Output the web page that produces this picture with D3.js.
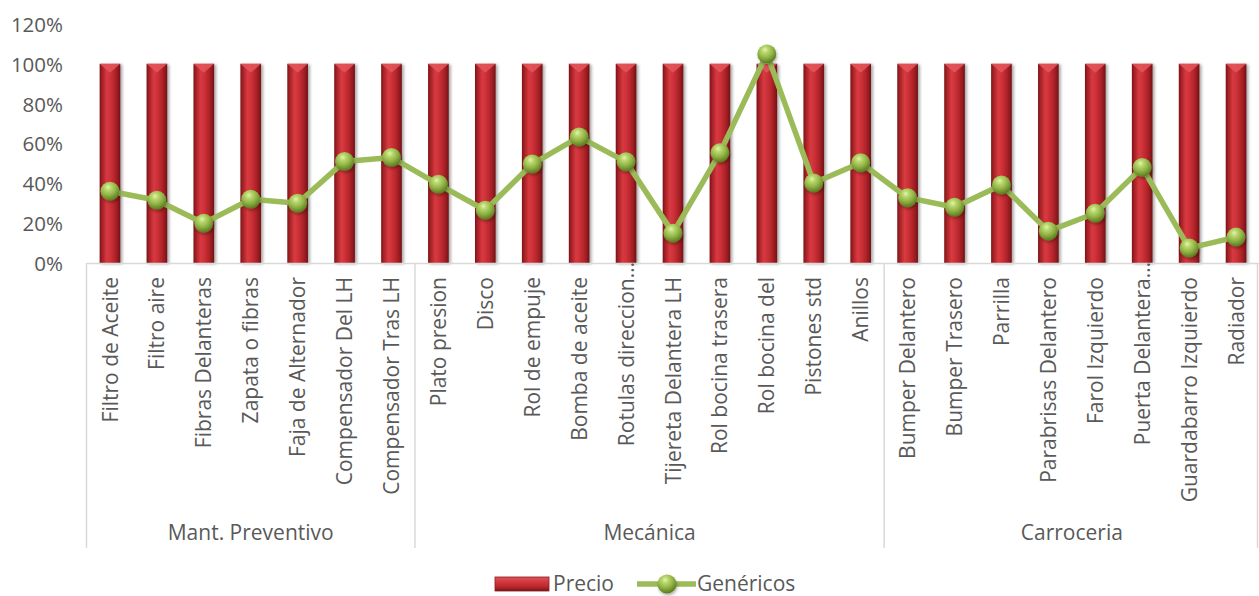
<!DOCTYPE html>
<html>
<head>
<meta charset="utf-8">
<script src="https://cdn.jsdelivr.net/npm/d3@7"></script>
<style>
  body { margin: 0; background: #fff; }
  svg text { font-family: 'Open Sans', sans-serif; fill: #595959; }
</style>
</head>
<body>
<svg id="chart" width="1259" height="596"></svg>
<script>
// Parts, grouped by service area
const categories = [
  "Filtro de Aceite", "Filtro aire", "Fibras Delanteras", "Zapata o fibras",
  "Faja de Alternador", "Compensador Del LH", "Compensador Tras LH",
  "Plato presion", "Disco", "Rol de empuje", "Bomba de aceite",
  "Rotulas direccion…", "Tijereta Delantera LH", "Rol bocina trasera",
  "Rol bocina del", "Pistones std", "Anillos",
  "Bumper Delantero", "Bumper Trasero", "Parrilla", "Parabrisas Delantero",
  "Farol Izquierdo", "Puerta Delantera…", "Guardabarro Izquierdo", "Radiador"
];
const groupNames = ["Mant. Preventivo", "Mecánica", "Carroceria"];
const groupSizes = [7, 10, 8];

// Series (share of the reference price)
const precio = [
  1, 1, 1, 1, 1, 1, 1,
  1, 1, 1, 1, 1, 1, 1, 1, 1, 1,
  1, 1, 1, 1, 1, 1, 1, 1
];
const genericos = [
  0.36, 0.315, 0.20, 0.32, 0.30, 0.51, 0.53,
  0.395, 0.265, 0.497, 0.633, 0.508, 0.15, 0.553, 1.05, 0.402, 0.503,
  0.328, 0.28, 0.392, 0.16, 0.25, 0.48, 0.075, 0.13
];
const yTicks = [0, 0.2, 0.4, 0.6, 0.8, 1.0, 1.2];
const seriesNames = ["Precio", "Genéricos"];

const svg = d3.select("#chart");
const defs = svg.append("defs");

const plotLeft = 86.5, plotRight = 1259.5;
const x = d3.scaleBand().domain(categories).range([plotLeft, plotRight]).padding(0);
const y = d3.scaleLinear().domain([0, 1.2]).range([263, 24]);
const barW = x.bandwidth() * 0.44;
const cx = d => x(d) + x.bandwidth() / 2;

// Cylindrical red fill for the bars
const barGrad = defs.append("linearGradient").attr("id", "barGrad")
  .attr("x1", "0%").attr("x2", "100%").attr("y1", "0%").attr("y2", "0%");
[["0%", "#7a1417"], ["12%", "#a52126"], ["35%", "#d83a41"], ["50%", "#cf3239"],
 ["70%", "#b8272d"], ["88%", "#951b20"], ["100%", "#6e1114"]]
  .forEach(([o, c]) => barGrad.append("stop").attr("offset", o).attr("stop-color", c));

const legendGrad = defs.append("linearGradient").attr("id", "legendGrad")
  .attr("x1", "0%").attr("x2", "0%").attr("y1", "0%").attr("y2", "100%");
[["0%", "#e0545a"], ["30%", "#d63a41"], ["70%", "#b8272d"], ["100%", "#7a1417"]]
  .forEach(([o, c]) => legendGrad.append("stop").attr("offset", o).attr("stop-color", c));

// Glossy green sphere for the markers
const dotGrad = defs.append("radialGradient").attr("id", "dotGrad")
  .attr("cx", "42%").attr("cy", "32%").attr("r", "65%").attr("fx", "40%").attr("fy", "28%");
[["0%", "#e4f3b4"], ["25%", "#b9d86c"], ["60%", "#93b548"], ["100%", "#5e7f22"]]
  .forEach(([o, c]) => dotGrad.append("stop").attr("offset", o).attr("stop-color", c));

const shadow = defs.append("filter").attr("id", "shadow")
  .attr("x", "-50%").attr("y", "-10%").attr("width", "200%").attr("height", "120%");
shadow.append("feDropShadow").attr("dx", 2).attr("dy", 1).attr("stdDeviation", 1.6)
  .attr("flood-color", "#000").attr("flood-opacity", 0.35);

const dotShadow = defs.append("filter").attr("id", "dotShadow")
  .attr("x", "-60%").attr("y", "-60%").attr("width", "220%").attr("height", "220%");
dotShadow.append("feDropShadow").attr("dx", 1).attr("dy", 2).attr("stdDeviation", 1.5)
  .attr("flood-color", "#000").attr("flood-opacity", 0.3);

// Y axis labels
const yAxis = d3.axisLeft(y).tickValues(yTicks).tickFormat(d3.format(".0%")).tickSize(0).tickPadding(0);
const yG = svg.append("g").attr("transform", "translate(63,0)").call(yAxis);
yG.select(".domain").remove();
yG.selectAll("text").style("font-size", "20.5px").attr("dy", "0.36em").attr("fill", "#595959");

// Bars
const barG = svg.append("g");
const bars = barG.selectAll("g.bar").data(categories).join("g").attr("class", "bar")
  .attr("filter", "url(#shadow)");
bars.append("rect")
  .attr("x", d => cx(d) - barW / 2)
  .attr("width", barW)
  .attr("y", (d, i) => y(precio[i]))
  .attr("height", (d, i) => y(0) - y(precio[i]))
  .attr("fill", "url(#barGrad)");
// Bevelled top
bars.append("path")
  .attr("d", (d, i) => {
    const t = y(precio[i]), l = cx(d) - barW / 2, r = cx(d) + barW / 2;
    return `M${l},${t}L${r},${t}L${cx(d)},${t + 9}Z`;
  })
  .attr("fill", "#e2545b").attr("opacity", 0.9);

// Category axis line and group separators
const groupStarts = [];
groupSizes.reduce((acc, n) => { groupStarts.push(acc); return acc + n; }, 0);
svg.append("line").attr("x1", plotLeft).attr("x2", plotRight)
  .attr("y1", 263.5).attr("y2", 263.5).attr("stroke", "#d9d9d9").attr("stroke-width", 1.5);
const sepX = groupStarts.map(s => x(categories[s])).concat([plotRight - 2]);
svg.selectAll("line.sep").data(sepX).join("line").attr("class", "sep")
  .attr("x1", d => d).attr("x2", d => d).attr("y1", 263).attr("y2", 548)
  .attr("stroke", "#d9d9d9").attr("stroke-width", 1.5);

// Category labels, rotated
const xAxis = d3.axisBottom(x).tickSize(0).tickPadding(0);
const xG = svg.append("g").attr("transform", "translate(0,0)").call(xAxis);
xG.select(".domain").remove();
xG.selectAll(".tick").attr("transform", d => `translate(${cx(d)},0)`);
xG.selectAll(".tick text")
  .style("font-size", "21px").attr("fill", "#595959")
  .attr("text-anchor", "end")
  .attr("transform", d => `translate(0,${d.endsWith("…") ? 262 : 277}) rotate(-90)`)
  .attr("x", 0).attr("y", 0).attr("dy", "0.36em");

// Group labels
svg.selectAll("text.group").data(groupNames).join("text").attr("class", "group")
  .attr("x", (d, i) => {
    const a = x(categories[groupStarts[i]]);
    const b = x(categories[groupStarts[i] + groupSizes[i] - 1]) + x.bandwidth();
    return (a + b) / 2;
  })
  .attr("y", 540).attr("text-anchor", "middle").style("font-size", "21px").text(d => d);

// Line series
const line = d3.line().x(d => cx(d[0])).y(d => y(d[1]));
const pts = categories.map((c, i) => [c, genericos[i]]);
svg.append("path").datum(pts).attr("d", line)
  .attr("fill", "none").attr("stroke", "#9bbb59").attr("stroke-width", 5.5)
  .attr("stroke-linejoin", "round");
svg.selectAll("circle.dot").data(pts).join("circle").attr("class", "dot")
  .attr("cx", d => cx(d[0])).attr("cy", d => y(d[1])).attr("r", 9.5)
  .attr("fill", "url(#dotGrad)").attr("filter", "url(#dotShadow)");

// Legend
const lg = svg.append("g");
lg.append("rect").attr("x", 495).attr("y", 577).attr("width", 54).attr("height", 14)
  .attr("fill", "url(#legendGrad)").attr("stroke", "#8a1a1e").attr("stroke-width", 0.8);
lg.append("text").attr("x", 553).attr("y", 591).style("font-size", "21px").text(seriesNames[0]);
lg.append("line").attr("x1", 637).attr("x2", 696).attr("y1", 584).attr("y2", 584)
  .attr("stroke", "#9bbb59").attr("stroke-width", 5.5);
lg.append("circle").attr("cx", 667).attr("cy", 584).attr("r", 9.5)
  .attr("fill", "url(#dotGrad)").attr("filter", "url(#dotShadow)");
lg.append("text").attr("x", 697).attr("y", 591).style("font-size", "21px").text(seriesNames[1]);
</script>
</body>
</html>
